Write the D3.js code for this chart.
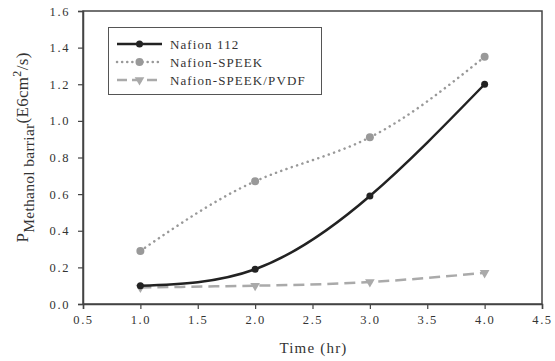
<!DOCTYPE html>
<html>
<head>
<meta charset="utf-8">
<script src="https://cdn.jsdelivr.net/npm/d3@7"></script>
<style>
  body { margin: 0; background: #fff; }
  text { font-family: "Liberation Serif", "Times New Roman", serif; fill: #333; }
</style>
</head>
<body>
<div id="chart"></div>
<script>
// data
const times = [1.0, 2.0, 3.0, 4.0];
const nafion112 = [0.10, 0.19, 0.59, 1.20];
const nafionSpeek = [0.29, 0.67, 0.91, 1.35];
const nafionSpeekPvdf = [0.09, 0.10, 0.12, 0.17];
const xTicks = [0.5, 1.0, 1.5, 2.0, 2.5, 3.0, 3.5, 4.0, 4.5];
const yTicks = [0.0, 0.2, 0.4, 0.6, 0.8, 1.0, 1.2, 1.4, 1.6];
const seriesNames = ['Nafion 112', 'Nafion-SPEEK', 'Nafion-SPEEK/PVDF'];

const width = 555, height = 361;
const margin = { top: 11, right: 13, bottom: 57, left: 83 };

const svg = d3.select('#chart').append('svg')
  .attr('width', width)
  .attr('height', height);

const x = d3.scaleLinear().domain([0.5, 4.5]).range([margin.left, width - margin.right]);
const y = d3.scaleLinear().domain([0, 1.6]).range([height - margin.bottom, margin.top]);

// frame
svg.append('rect')
  .attr('x', x(0.5)).attr('y', y(1.6))
  .attr('width', x(4.5) - x(0.5)).attr('height', y(0) - y(1.6))
  .attr('fill', 'none').attr('stroke', '#444').attr('stroke-width', 1.5);

const xAxis = svg.append('g')
  .attr('transform', `translate(0,${y(0)})`)
  .call(d3.axisBottom(x).tickValues(xTicks).tickFormat(d3.format('.1f')).tickSize(5).tickPadding(6));
const yAxis = svg.append('g')
  .attr('transform', `translate(${x(0.5)},0)`)
  .call(d3.axisLeft(y).tickValues(yTicks).tickFormat(d3.format('.1f')).tickSize(5).tickPadding(8));

[xAxis, yAxis].forEach(g => {
  g.attr('font-family', '"Liberation Serif", serif').attr('font-size', 12.5);
  g.select('.domain').attr('stroke', '#444').attr('stroke-width', 1.5);
  g.selectAll('.tick line').attr('stroke', '#444').attr('stroke-width', 1.2);
  g.selectAll('.tick text').attr('fill', '#333').attr('letter-spacing', 1.6);
});

// axis titles
svg.append('text')
  .attr('x', x(2.5) + 1).attr('y', 353)
  .attr('text-anchor', 'middle')
  .attr('font-size', 15)
  .attr('letter-spacing', 1.2)
  .text('Time (hr)');

const yTitle = svg.append('text')
  .attr('transform', `translate(28,${y(0.8) - 10}) rotate(-90)`)
  .attr('text-anchor', 'middle')
  .attr('font-size', 17)
  .attr('letter-spacing', 0.3);
yTitle.append('tspan').text('P');
yTitle.append('tspan').attr('dy', 6).attr('font-size', 15.5).text('Methanol barriar');
yTitle.append('tspan').attr('dy', -6).text('(E6cm');
yTitle.append('tspan').attr('dy', -7).attr('font-size', 12).text('2');
yTitle.append('tspan').attr('dy', 7).text('/s)');

// series
const series = [
  { name: seriesNames[0], values: nafion112, color: '#222', dash: null, marker: 'circle', r: 3.5 },
  { name: seriesNames[1], values: nafionSpeek, color: '#999', dash: '0.1 5.5', marker: 'circle', r: 4 },
  { name: seriesNames[2], values: nafionSpeekPvdf, color: '#aaa', dash: '11 6', marker: 'triangle', r: 4 }
];

const line = d3.line()
  .x(d => x(d[0]))
  .y(d => y(d[1]))
  .curve(d3.curveNatural);

function drawMarker(g, s, cx, cy) {
  if (s.marker === 'circle') {
    g.append('circle').attr('cx', cx).attr('cy', cy).attr('r', s.r).attr('fill', s.color);
  } else {
    g.append('path')
      .attr('d', d3.symbol(d3.symbolTriangle, 40)())
      .attr('transform', `translate(${cx},${cy}) rotate(180)`)
      .attr('fill', s.color);
  }
}

// draw from back to front
[2, 1, 0].forEach(i => {
  const s = series[i];
  const pts = times.map((t, j) => [t, s.values[j]]);
  const g = svg.append('g');
  g.append('path')
    .datum(pts)
    .attr('d', line)
    .attr('fill', 'none')
    .attr('stroke', s.color)
    .attr('stroke-width', 2.5)
    .attr('stroke-linecap', s.dash === '0.1 5.5' ? 'round' : 'butt')
    .attr('stroke-dasharray', s.dash);
  pts.forEach(p => drawMarker(g, s, x(p[0]), y(p[1])));
});

// legend
const legend = svg.append('g');
legend.append('rect')
  .attr('x', 108.5).attr('y', 27.5)
  .attr('width', 213).attr('height', 67)
  .attr('fill', '#fff').attr('stroke', '#555').attr('stroke-width', 1);

series.forEach((s, i) => {
  const ly = 44 + i * 18;
  legend.append('line')
    .attr('x1', 117).attr('x2', 162).attr('y1', ly).attr('y2', ly)
    .attr('stroke', s.color)
    .attr('stroke-width', 2.5)
    .attr('stroke-linecap', s.dash === '0.1 5.5' ? 'round' : 'butt')
    .attr('stroke-dasharray', s.dash === '0.1 5.5' ? '0.1 5' : (s.dash ? '10 5' : null));
  drawMarker(legend, s, 139.5, ly);
  legend.append('text')
    .attr('x', 170).attr('y', ly + 4.5)
    .attr('font-size', 13)
    .attr('letter-spacing', 1.1)
    .text(s.name);
});
</script>
</body>
</html>
